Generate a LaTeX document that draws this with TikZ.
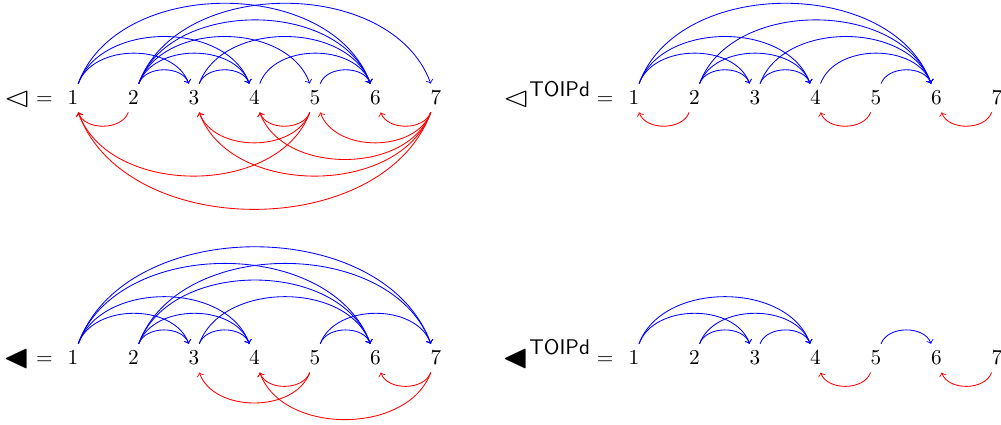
\documentclass[tikz,border=0pt]{standalone}
\usepackage{amssymb}
\usepackage{graphicx}
\usetikzlibrary{positioning}
\newcommand{\wht}{\mathord{\raisebox{-0.8pt}{\scalebox{1.6}[1.35]{$\vartriangleleft$}}}}
\newcommand{\blk}{\mathord{\raisebox{-1.2pt}{\scalebox{1.6}{$\blacktriangleleft$}}}}
\begin{document}
\begin{tikzpicture}[fwd/.style={->, blue}, bwd/.style={->, red}]
        \useasboundingbox (-1.207,1.62) rectangle (15.339,-5.405);

        % Full order
        \begin{scope}
            \foreach \i in {1,...,7}
                \node (a\i) at (\i-1, 0) {$\i$};
            \node[base left=0pt of a1] (la) {$\wht =$};
            \foreach \s/\t in {1/3,1/4,1/6,2/3,2/4,2/5,2/6,2/7,3/4,3/6,4/6,5/6}
                \draw[fwd] (a\s) to[bend left=70] (a\t);
            \foreach \s/\t in {2/1,5/4,5/3,5/1,7/6,7/5,7/4,7/3,7/1}
                \draw[bwd] (a\s) to[bend left=70] (a\t);
        \end{scope}

        % Full order, TOIPd part
        \begin{scope}[shift={(9.27,0)}]
            \foreach \i in {1,...,7}
                \node (b\i) at (\i-1, 0) {$\i$};
            \node[base left=0pt of b1] (lb) {$\wht^{\textsf{TOIPd}} =$};
            \foreach \s/\t in {1/3,1/4,1/6,2/3,2/4,2/6,3/4,3/6,4/6,5/6}
                \draw[fwd] (b\s) to[bend left=70] (b\t);
            \foreach \s/\t in {2/1,5/4,7/6}
                \draw[bwd] (b\s) to[bend left=70] (b\t);
        \end{scope}

        % Black order
        \begin{scope}[shift={(0,-4.3)}]
            \foreach \i in {1,...,7}
                \node (c\i) at (\i-1, 0) {$\i$};
            \node[base left=0pt of c1] (lc) {$\blk =$};
            \foreach \s/\t in {1/3,1/4,1/6,1/7,2/3,2/4,2/6,2/7,3/4,3/6,5/6,5/7}
                \draw[fwd] (c\s) to[bend left=70] (c\t);
            \foreach \s/\t in {5/4,5/3,7/6,7/4}
                \draw[bwd] (c\s) to[bend left=70] (c\t);
        \end{scope}

        % Black order, TOIPd part
        \begin{scope}[shift={(9.27,-4.3)}]
            \foreach \i in {1,...,7}
                \node (d\i) at (\i-1, 0) {$\i$};
            \node[base left=0pt of d1] (ld) {$\blk^{\textsf{TOIPd}} =$};
            \foreach \s/\t in {1/3,1/4,2/3,2/4,3/4,5/6}
                \draw[fwd] (d\s) to[bend left=70] (d\t);
            \foreach \s/\t in {5/4,7/6}
                \draw[bwd] (d\s) to[bend left=70] (d\t);
        \end{scope}
    \end{tikzpicture}
\end{document}
